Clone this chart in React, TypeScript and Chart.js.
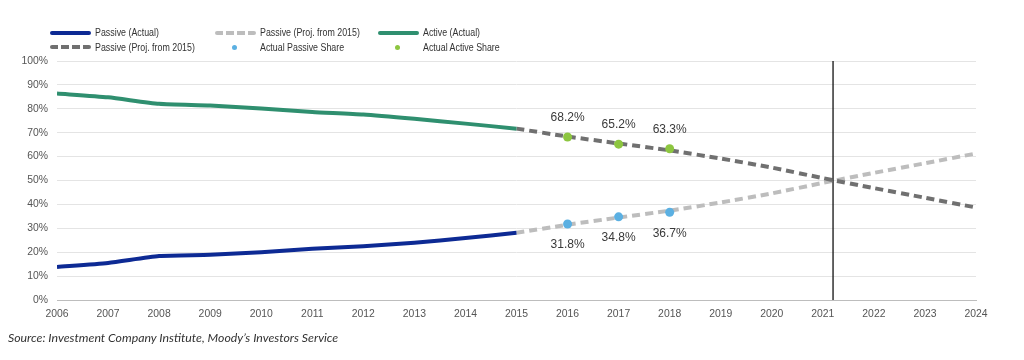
import React, { useEffect, useRef } from "react";
import { Chart, registerables } from "chart.js";

Chart.register(...registerables);

const actualYears = [2006, 2007, 2008, 2009, 2010, 2011, 2012, 2013, 2014, 2015];
const passiveActual = [13.8, 15.5, 18.4, 18.9, 20.0, 21.4, 22.5, 24.0, 25.9, 28.1];
const activeActual = [86.4, 84.8, 82.1, 81.4, 80.1, 78.7, 77.6, 75.8, 73.8, 71.7];

const projYears = [2015, 2016, 2017, 2018, 2019, 2020, 2021, 2022, 2023, 2024];
const passiveProj = [28.1, 31.5, 34.5, 37.4, 40.8, 44.6, 49.0, 53.2, 57.2, 61.3];
const activeProj = [71.7, 68.4, 65.5, 62.6, 59.2, 55.4, 51.0, 46.8, 42.8, 38.7];

const shareYears = [2016, 2017, 2018];
const passiveShare = [31.8, 34.8, 36.7];
const activeShare = [68.2, 65.2, 63.3];

const crossoverYear = 2021.2;
const yRange = [0, 100];
const xRange = [2006, 2024];

const legendLabels = [
  "Passive (Actual)",
  "Passive (Proj. from 2015)",
  "Active (Actual)",
  "Passive (Proj. from 2015)",
  "Actual Passive Share",
  "Actual Active Share",
];

const sourceText = "Source: Investment Company Institute, Moody\u2019s Investors Service";

const C = {
  passive: "#0d2a94",
  active: "#2f8f6f",
  projLight: "#bdbdbd",
  projDark: "#707070",
  dotPassive: "#5bb0e2",
  dotActive: "#8dc640",
};

const zip = (xs: number[], ys: number[]) => xs.map((x, i) => ({ x, y: ys[i] }));

const labelPlugin = {
  id: "shareLabels",
  afterDatasetsDraw(chart: any) {
    const ctx = chart.ctx;
    chart.data.datasets.forEach((ds: any, i: number) => {
      if (ds.labelOffset === undefined) return;
      const meta = chart.getDatasetMeta(i);
      ctx.save();
      ctx.font = "12px 'Liberation Sans', Arial, sans-serif";
      ctx.fillStyle = "#3a3a3a";
      ctx.textAlign = "center";
      ctx.textBaseline = "middle";
      meta.data.forEach((el: any, j: number) => {
        const v = ds.data[j].y;
        ctx.fillText(v.toFixed(1) + "%", el.x, el.y + ds.labelOffset);
      });
      ctx.restore();
    });
  },
};

function ChartCanvas() {
  const ref = useRef<HTMLCanvasElement | null>(null);
  useEffect(() => {
    if (!ref.current) return;
    const font = { family: "'Liberation Sans', Arial, sans-serif", size: 10.4 };
    const chart = new Chart(ref.current, {
      type: "line",
      data: {
        datasets: [
          {
            label: legendLabels[3],
            data: zip(projYears, activeProj),
            borderColor: C.projDark,
            borderWidth: 4,
            borderDash: [8, 5],
            pointRadius: 0,
            tension: 0.2,
            order: 3,
          },
          {
            label: legendLabels[1],
            data: zip(projYears, passiveProj),
            borderColor: C.projLight,
            borderWidth: 4,
            borderDash: [8, 5],
            pointRadius: 0,
            tension: 0.2,
            order: 3,
          },
          {
            label: legendLabels[0],
            data: zip(actualYears, passiveActual),
            borderColor: C.passive,
            borderWidth: 4,
            pointRadius: 0,
            tension: 0.2,
            order: 2,
          },
          {
            label: legendLabels[2],
            data: zip(actualYears, activeActual),
            borderColor: C.active,
            borderWidth: 4,
            pointRadius: 0,
            tension: 0.2,
            order: 2,
          },
          {
            label: "crossover",
            data: [
              { x: crossoverYear, y: yRange[0] },
              { x: crossoverYear, y: yRange[1] },
            ],
            borderColor: "#111111",
            borderWidth: 1.3,
            pointRadius: 0,
            order: 1,
          },
          {
            label: legendLabels[4],
            data: zip(shareYears, passiveShare),
            showLine: false,
            pointRadius: 4.5,
            pointBackgroundColor: C.dotPassive,
            pointBorderColor: C.dotPassive,
            pointBorderWidth: 0,
            labelOffset: 21,
            order: 0,
          } as any,
          {
            label: legendLabels[5],
            data: zip(shareYears, activeShare),
            showLine: false,
            pointRadius: 4.5,
            pointBackgroundColor: C.dotActive,
            pointBorderColor: C.dotActive,
            pointBorderWidth: 0,
            labelOffset: -19,
            order: 0,
          } as any,
        ],
      },
      options: {
        animation: false,
        responsive: false,
        maintainAspectRatio: false,
        layout: { padding: { left: 0, right: 48, top: 61, bottom: 30 } },
        plugins: {
          legend: { display: false },
          tooltip: { enabled: false },
        },
        scales: {
          x: {
            type: "linear",
            min: xRange[0],
            max: xRange[1],
            grid: { display: false, drawTicks: false },
            border: { display: true, color: "#bdbdbd", width: 1 },
            ticks: {
              stepSize: 1,
              autoSkip: false,
              maxRotation: 0,
              padding: 8,
              color: "#555555",
              font,
              callback: (v: any) => String(v),
            },
            afterFit: (s: any) => {
              s.height = 30;
            },
          },
          y: {
            min: yRange[0],
            max: yRange[1],
            grid: { color: "#e4e4e4", lineWidth: 1, drawTicks: false },
            border: { display: false },
            ticks: {
              stepSize: 10,
              padding: 9,
              color: "#555555",
              font,
              callback: (v: any) => v + "%",
            },
            afterFit: (s: any) => {
              s.width = 57;
            },
          },
        },
      },
      plugins: [labelPlugin],
    } as any);
    return () => chart.destroy();
  }, []);
  return (
    <canvas
      ref={ref}
      width={1024}
      height={360}
      style={{ position: "absolute", left: 0, top: 0, width: 1024, height: 360 }}
    />
  );
}

function Swatch({ kind, color }: { kind: string; color: string }) {
  if (kind === "dot") {
    return (
      <div style={{ width: 41, height: 6, position: "relative" }}>
        <div
          style={{
            position: "absolute",
            left: 17,
            top: 0.5,
            width: 5,
            height: 5,
            borderRadius: 3,
            background: color,
          }}
        />
      </div>
    );
  }
  if (kind === "dash") {
    return (
      <div
        style={{
          width: 41,
          height: 4,
          borderRadius: 2,
          background: `repeating-linear-gradient(to right, ${color} 0px, ${color} 8px, transparent 8px, transparent 11px)`,
        }}
      />
    );
  }
  return <div style={{ width: 41, height: 4, borderRadius: 2, background: color }} />;
}

const legendItems = [
  { label: legendLabels[0], kind: "line", color: C.passive, col: 0, row: 0 },
  { label: legendLabels[1], kind: "dash", color: C.projLight, col: 1, row: 0 },
  { label: legendLabels[2], kind: "line", color: C.active, col: 2, row: 0 },
  { label: legendLabels[3], kind: "dash", color: C.projDark, col: 0, row: 1 },
  { label: legendLabels[4], kind: "dot", color: C.dotPassive, col: 1, row: 1 },
  { label: legendLabels[5], kind: "dot", color: C.dotActive, col: 2, row: 1 },
];
const colX = [50, 215, 378];
const rowY = [32.5, 47];

export default function App() {
  return (
    <div
      style={{
        position: "absolute",
        left: 0,
        top: 0,
        width: 1024,
        height: 360,
        background: "#ffffff",
        overflow: "hidden",
      }}
    >
      <ChartCanvas />
      {legendItems.map((it, i) => (
        <div
          key={i}
          style={{
            position: "absolute",
            left: colX[it.col],
            top: rowY[it.row] - 7,
            height: 14,
            display: "flex",
            alignItems: "center",
            gap: 4,
            fontFamily: "'Liberation Sans', Arial, sans-serif",
            fontSize: 10,
            color: "#333333",
            whiteSpace: "nowrap",
          }}
        >
          <Swatch kind={it.kind} color={it.color} />
          <span style={{ display: "inline-block", transform: "scaleX(0.885)", transformOrigin: "left center" }}>
            {it.label}
          </span>
        </div>
      ))}
      <div
        style={{
          position: "absolute",
          left: 8,
          top: 330,
          fontFamily: "Lato, 'Open Sans', sans-serif",
          fontStyle: "italic",
          fontSize: 12.3,
          color: "#333333",
          whiteSpace: "nowrap",
          lineHeight: "16px",
        }}
      >
        {sourceText}
      </div>
    </div>
  );
}
